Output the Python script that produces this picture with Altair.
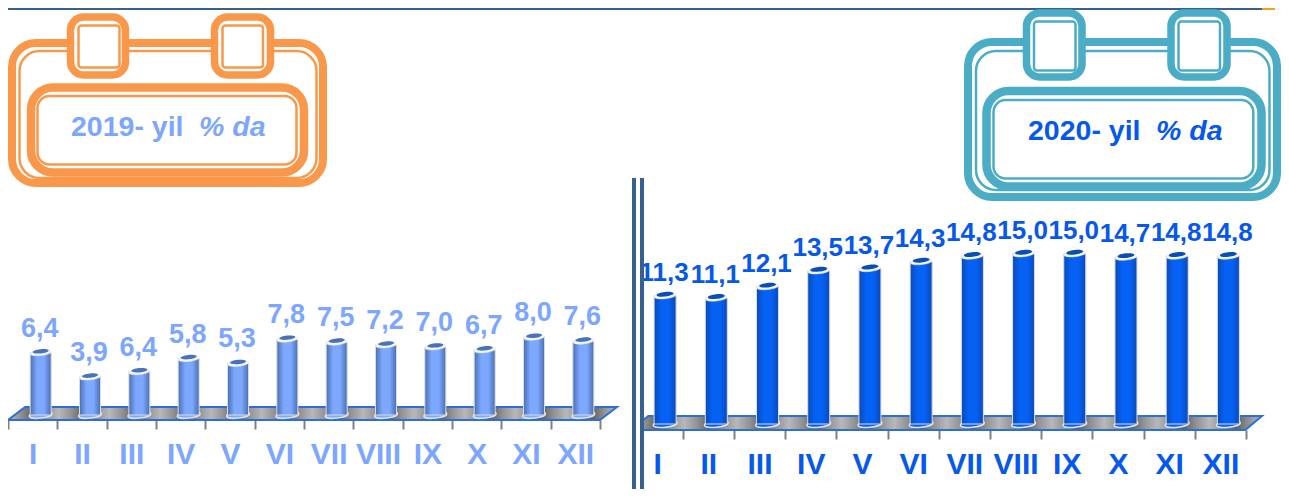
import altair as alt
import pandas as pd

months = ["I", "II", "III", "IV", "V", "VI", "VII", "VIII", "IX", "X", "XI", "XII"]
# Bar heights as drawn; the third 2019 bar is drawn much shorter than its printed label says.
values_2019 = [6.4, 3.9, 4.45, 5.8, 5.3, 7.8, 7.5, 7.2, 7.0, 6.7, 8.0, 7.6]
labels_2019 = ["6,4", "3,9", "6,4", "5,8", "5,3", "7,8", "7,5", "7,2", "7,0", "6,7", "8,0", "7,6"]
values_2020 = [11.3, 11.1, 12.1, 13.5, 13.7, 14.3, 14.8, 15.0, 15.0, 14.7, 14.8, 14.8]
labels_2020 = ["11,3", "11,1", "12,1", "13,5", "13,7", "14,3", "14,8", "15,0", "15,0", "14,7", "14,8", "14,8"]

FONT = "Liberation Sans"
W, H = 1273, 481
ORANGE, TEAL = "#F9984A", "#4BACC6"
LIGHT, DARK = "#7CA6FF", "#0658EC"
LINE = "#35608F"
ELLIPSE = "M-1,0A1,0.27,0,1,1,1,0A1,0.27,0,1,1,-1,0Z"


def px(v):
    return alt.value(v - 8)


def rect(x, x2, y, y2, stroke=None, sw=0, r=0, fill="#ffffff"):
    kw = dict(fill=fill, cornerRadius=r)
    if stroke:
        kw.update(stroke=stroke, strokeWidth=sw)
    return alt.Chart().mark_rect(**kw).encode(x=px(x), x2=px(x2), y=px(y), y2=px(y2))


def calendar(color, outer, thin, plate, plate_thin, tabs, tab_y, tab_thin_y):
    layers = [
        rect(*outer, color, 8, 24, "transparent"),
        rect(*thin, color, 2.5, 20, "transparent"),
        rect(*plate, color, 8.5, 22),
        rect(*plate_thin, color, 2.5, 12),
    ]
    for (a, b), (c, d) in tabs:
        layers.append(rect(a, b, *tab_y, color, 7.5, 13))
        layers.append(rect(c, d, *tab_thin_y, color, 2.5, 3))
    return layers


def title(x, y, txt, color, italic=False):
    kw = dict(fontStyle="italic") if italic else {}
    return alt.Chart().mark_text(
        text=txt, font=FONT, fontSize=28.5, fontWeight="bold", color=color,
        align="left", baseline="alphabetic", **kw
    ).encode(x=px(x), y=px(y))


def grad(stops):
    n = len(stops) - 1
    return alt.Gradient(
        gradient="linear", x1=0, y1=0, x2=1, y2=0,
        stops=[alt.GradientStop(offset=i / n, color=c) for i, c in enumerate(stops)],
    )


def panel(vals, labels, rng_x, rng_y, color, edge, mid, lid, axis_offset, plat, plat_path,
          label_size, tick_label_size, dy, label_pad, bar_w):
    df = pd.DataFrame({"m": months, "v": vals, "t": labels})
    df["z"] = 0
    x = alt.X("m:N", sort=months, title=None,
              scale=alt.Scale(domain=months, range=rng_x, paddingInner=0, paddingOuter=0),
              axis=alt.Axis(orient="bottom", offset=axis_offset, domain=False, grid=False, tickBand="extent",
                            tickColor="#808080", tickWidth=2, tickSize=9, labelAngle=0, labelColor=color,
                            labelFont=FONT, labelFontWeight="bold", labelFontSize=tick_label_size,
                            labelPadding=label_pad, labelBaseline="top"))
    y_s = alt.Scale(domain=[0, 16], range=rng_y)
    y = alt.Y("v:Q", scale=y_s, axis=None, title=None)
    yz = alt.Y("z:Q", scale=y_s, axis=None, title=None)
    base = alt.Chart(df)
    body = grad([edge, mid, mid, edge])
    floor_stops = []
    for _ in range(12):
        floor_stops += ["#b8b8b8", "#929292", "#5e5e5e", "#929292"]
    platform = alt.Chart().mark_point(
        shape=plat_path, size=(2 * plat[2]) ** 2, filled=True, opacity=1,
        fill=grad(floor_stops + ["#b8b8b8"]), stroke="#2A6FDB", strokeWidth=2,
    ).encode(x=px(plat[0]), y=px(plat[1]))
    return alt.layer(
        platform,
        base.mark_point(shape=ELLIPSE, size=(bar_w + 2) ** 2, angle=354, filled=True, opacity=1, fill=mid,
                        stroke="#e4e4e4", strokeWidth=1.5, xOffset=8).encode(x=x, y=yz),
        base.mark_bar(size=bar_w, xOffset=8, fill=body, stroke="#dcdcdc", strokeWidth=1).encode(x=x, y=y, y2=alt.Y2("z:Q")),
        base.mark_point(shape=ELLIPSE, size=bar_w ** 2, angle=354, filled=True, opacity=1, fill="#f4f6fa",
                        xOffset=8, stroke="#e4e4e4", strokeWidth=0.5).encode(x=x, y=y),
        base.mark_point(shape=ELLIPSE, size=(bar_w - 5) ** 2, angle=354, filled=True, opacity=1, fill=lid,
                        xOffset=8, yOffset=-1.5).encode(x=x, y=y),
        base.mark_text(font=FONT, fontSize=label_size, fontWeight="bold", color=color, xOffset=7, dy=dy,
                       baseline="alphabetic", align="center").encode(x=x, y=y, text="t:N"),
    )


# top rule of the page
top_rule = [rect(8, 1262, 8, 10, fill=LINE), rect(1262, 1275, 8, 10, fill="#F7A11A")]

orange = calendar(
    ORANGE, (12, 323, 43, 183), (19.5, 316.5, 51, 178), (31, 304, 87.5, 172.5), (37.5, 296.5, 96, 164.5),
    [((70.5, 125.5), (78.5, 119.5)), ((214.5, 270.5), (222.5, 263))], (17, 75), (25.5, 67.5),
)
teal = calendar(
    TEAL, (968, 1277, 42, 197), (976, 1269.5, 51, 190), (986.5, 1261.5, 91, 186.5), (993.5, 1253.3, 100, 178.5),
    [((1026.5, 1082), (1034, 1075.5)), ((1171, 1227), (1178.5, 1220))], (13, 77), (21.5, 70.5),
)

P1 = "M-1,0.0213L0.944,0.0213L1,-0.0213L-0.944,-0.0213Z"
P2 = "M-1,0.0222L0.947,0.0222L1,-0.0222L-0.947,-0.0222Z"

left = panel(values_2019, labels_2019, [0, 592], [407, 251.5], LIGHT, "#4A6FB0", "#7CA8FF", "#4A72B8", 412 - H,
             (312.5, 413.5, 304.5), P1, 27, 30, -16, 10.5, 21)
right = panel(values_2020, labels_2020, [623.5, 1238], [416, 234.4], DARK, "#0A4BB8", "#0661F5", "#0A4DB5", 422 - H,
              (946.75, 423, 315.25), P2, 26, 30, -15, 10.5, 22)

dividers = [
    rect(626, 632, 424, 442, fill="#ffffff"),
    rect(636, 640, 178, 497, fill="#ffffff"),
    rect(632, 636, 178, 497, fill=LINE),
    rect(640, 644, 178, 497, fill=LINE),
]

chart = alt.layer(
    *top_rule, *orange, *teal,
    title(71, 136, "2019- yil", LIGHT), title(199, 136, "% da", LIGHT, True),
    title(1028, 140, "2020- yil", DARK), title(1156, 140, "% da", DARK, True),
    left, right, *dividers,
).resolve_scale(x="independent", y="independent").properties(
    width=W, height=H, autosize=alt.AutoSizeParams(type="none"), padding=0, background="#ffffff",
).configure_view(stroke=None)

chart.save("out.html", embed_options={"renderer": "svg", "actions": False})
